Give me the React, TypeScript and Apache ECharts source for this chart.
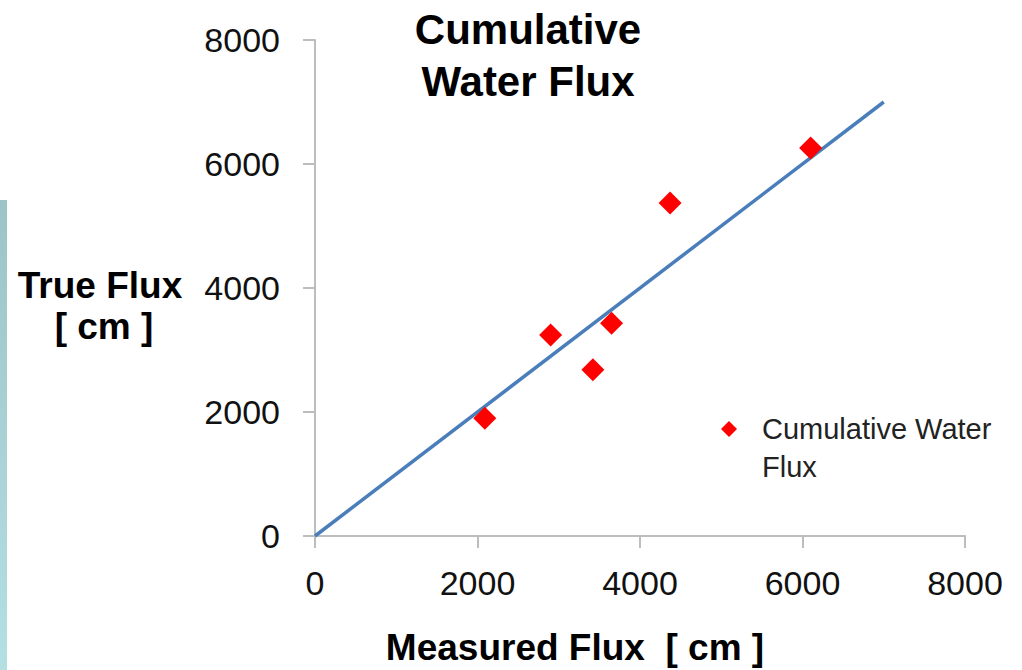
import React, { useEffect, useRef } from "react";
import * as echarts from "echarts";

const TITLE_LINES = ["Cumulative", "Water Flux"];
const X_NAME = "Measured Flux  [ cm ]";
const Y_NAME_LINES = ["True Flux", "[ cm ]"];
const SERIES_NAME = "Cumulative Water Flux";
const LEGEND_LINES = ["Cumulative Water", "Flux"];

const MEASURED = [2090, 2900, 3420, 3650, 4370, 6100];
const TRUE_FLUX = [1900, 3240, 2680, 3430, 5370, 6260];

const TREND_X = [0, 7000];
const TREND_Y = [0, 7000];

const AXIS_MIN = 0;
const AXIS_MAX = 8000;
const AXIS_STEP = 2000;
const TICK_LABELS = ["0", "2000", "4000", "6000", "8000"];

const FONT = "Arial, 'Liberation Sans', Helvetica, sans-serif";

// legend geometry: diamond size D, text line height L
const LEG_D = 16;
const LEG_L = 38;
const LEG_H = LEG_D + LEG_L;
const LEGEND_ICON = `path://M8,0 L16,8 L8,16 L0,8 Z M8,16 L8,${LEG_H}`;

export default function App() {
  const ref = useRef<HTMLDivElement>(null);

  useEffect(() => {
    if (!ref.current) return;
    const chart = echarts.init(ref.current, undefined, { renderer: "svg" });
    const fmt = (v: number) => TICK_LABELS[Math.round((v - AXIS_MIN) / AXIS_STEP)] ?? String(v);
    const axisCommon = {
      type: "value" as const,
      min: AXIS_MIN,
      max: AXIS_MAX,
      interval: AXIS_STEP,
      splitLine: { show: false },
      axisLine: { show: true, lineStyle: { color: "#bdbdbd", width: 2 } },
      axisTick: { show: true, length: 12, lineStyle: { color: "#bdbdbd", width: 2 } },
      axisLabel: { color: "#111", fontSize: 34, fontFamily: FONT, formatter: fmt },
    };
    chart.setOption({
      animation: false,
      backgroundColor: "#ffffff",
      grid: { left: 315, right: 57, top: 40, bottom: 134, containLabel: false },
      xAxis: { ...axisCommon, axisLabel: { ...axisCommon.axisLabel, margin: 30 } },
      yAxis: { ...axisCommon, axisLabel: { ...axisCommon.axisLabel, margin: 35 } },
      legend: {
        data: [{ name: SERIES_NAME, icon: LEGEND_ICON }],
        left: 721,
        top: 410,
        padding: 0,
        orient: "vertical",
        itemWidth: LEG_D,
        itemHeight: LEG_H,
        formatter: () => LEGEND_LINES.join("\n"),
        itemStyle: { opacity: 1 },
        textStyle: {
          color: "#222",
          fontSize: 29,
          fontFamily: FONT,
          lineHeight: LEG_L,
          padding: [0, 0, 0, 20],
        },
      },
      graphic: [
        {
          type: "rect",
          shape: { x: 0, y: 200, width: 7, height: 470 },
          style: {
            fill: new echarts.graphic.LinearGradient(0, 0, 0, 1, [
              { offset: 0, color: "#9cc4c7" },
              { offset: 1, color: "#b4dfe3" },
            ]),
          },
        },
        ...TITLE_LINES.map((t, i) => ({
          type: "text",
          x: 528,
          y: 29 + i * 52,
          style: {
            text: t,
            fill: "#000",
            font: `bold 42px ${FONT}`,
            textAlign: "center",
            textVerticalAlign: "middle",
          },
        })),
        ...Y_NAME_LINES.map((t, i) => ({
          type: "text",
          x: i === 0 ? 100 : 104,
          y: 285 + i * 41,
          style: {
            text: t,
            fill: "#000",
            font: `bold 37px ${FONT}`,
            textAlign: "center",
            textVerticalAlign: "middle",
          },
        })),
        {
          type: "text",
          x: 575,
          y: 647,
          style: {
            text: X_NAME,
            fill: "#000",
            font: `bold 37px ${FONT}`,
            textAlign: "center",
            textVerticalAlign: "middle",
          },
        },
      ],
      series: [
        {
          name: "Trend",
          type: "line",
          data: TREND_X.map((x, i) => [x, TREND_Y[i]]),
          showSymbol: false,
          symbol: "none",
          lineStyle: { color: "#4a7ebb", width: 3.5 },
          silent: true,
          z: 2,
        },
        {
          name: SERIES_NAME,
          type: "scatter",
          data: MEASURED.map((x, i) => [x, TRUE_FLUX[i]]),
          symbol: "diamond",
          symbolSize: 23,
          itemStyle: { color: "#ff0000", opacity: 1 },
          z: 3,
        },
      ],
    });
    return () => chart.dispose();
  }, []);

  return (
    <div
      ref={ref}
      style={{ position: "absolute", left: 0, top: 0, width: 1022, height: 670 }}
    />
  );
}
